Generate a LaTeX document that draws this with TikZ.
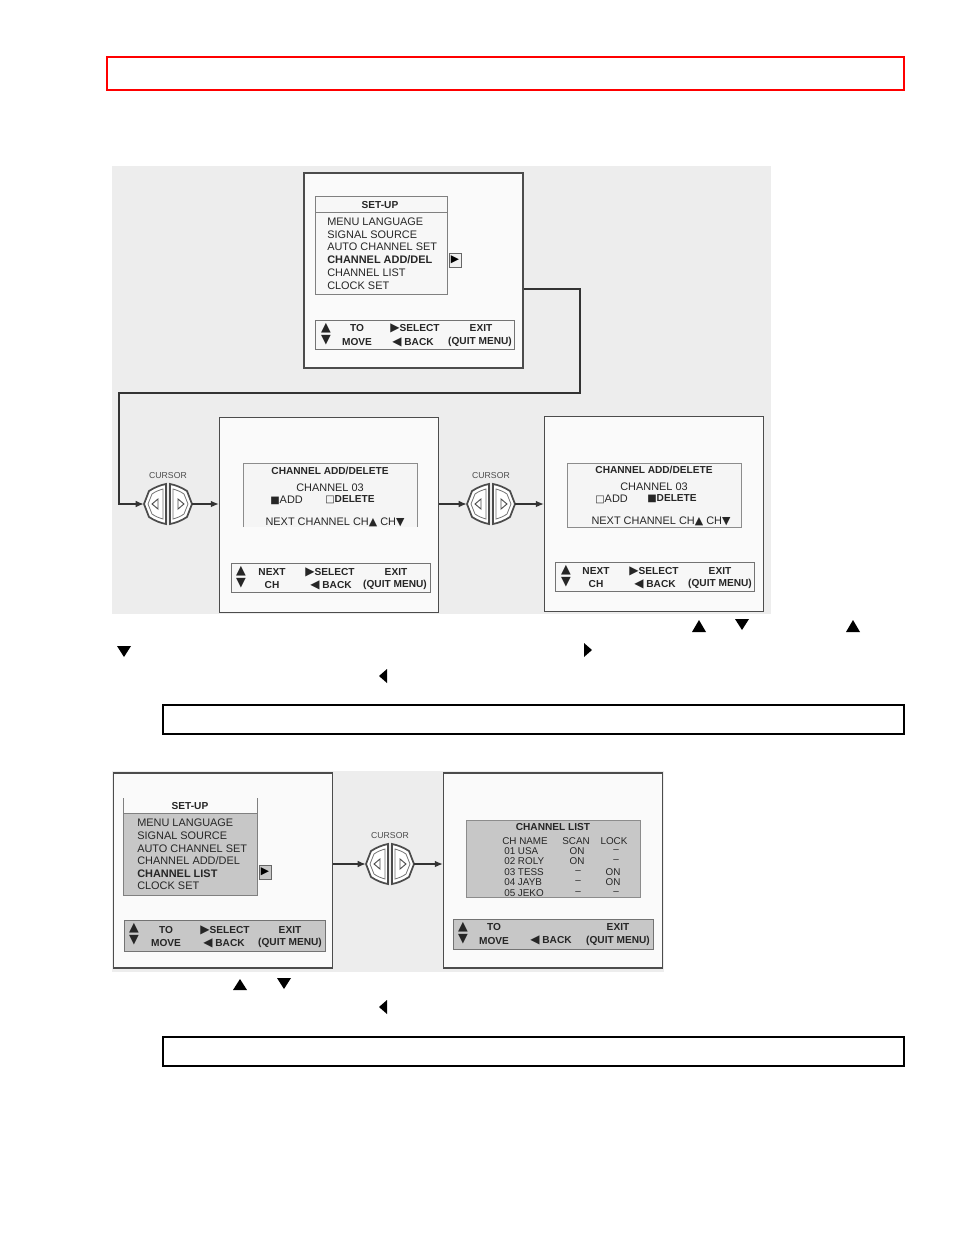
\documentclass[tikz,border=0pt]{standalone}
\usepackage{fontspec}
\setmainfont{Liberation Sans}
\newfontfamily\symfont{DejaVu Sans}
\usetikzlibrary{positioning,arrows.meta}

\newcommand{\tup}{{\symfont ▲}}
\newcommand{\tdn}{{\symfont ▼}}
\newcommand{\trt}{{\symfont\fontsize{9}{9}\selectfont ▶}}
\newcommand{\tlt}{{\symfont\fontsize{9}{9}\selectfont ◀}}

% cursor pad, drawn round a named node
\newcommand{\cursorpad}[1]{%
  \begin{scope}[shift={(#1)}]
    \foreach \s in {-1,1} {
      \filldraw[draw=black!70,line width=1.3pt,fill=white,xscale=\s]
        (-24,0) -- (-19,-13) .. controls (-13,-17) and (-7,-19) .. (-2,-20)
        -- (-2,20) .. controls (-7,19) and (-13,17) .. (-19,13) -- cycle;
      \draw[black!55,line width=0.6pt,xscale=\s]
        (-20,0) -- (-16,-10) .. controls (-12,-13) and (-8,-14) .. (-5,-15)
        -- (-5,15) .. controls (-8,14) and (-12,13) .. (-16,10) -- cycle;
      \draw[black!70,line width=0.7pt,xscale=\s] (-16,0) -- (-10,-5) -- (-10,5) -- cycle;
    }
  \end{scope}}

\begin{document}
\begin{tikzpicture}[x=0.75pt,y=-0.75pt,
    scr/.style={draw=black!70,line width=1pt,fill=black!2,minimum width=219*0.75pt,
                minimum height=195*0.75pt,inner sep=0pt},
    bar/.style={draw=black!55,line width=0.5pt,fill=black!3},
    gbar/.style={draw=black!55,line width=0.5pt,fill=black!22},
    txt/.style={font=\fontsize{8.2}{9}\selectfont,text=black!85,inner sep=0pt},
    btxt/.style={font=\fontsize{7.6}{9}\selectfont\bfseries,text=black!85,inner sep=0pt},
    ltxt/.style={font=\fontsize{7.4}{8}\selectfont,text=black!85,inner sep=0pt},
    atxt/.style={font=\symfont\fontsize{9.5}{9}\selectfont,text=black!85,inner sep=0pt},
    cur/.style={minimum width=48*0.75pt,minimum height=40*0.75pt,inner sep=0pt},
    lbl/.style={font=\fontsize{6.5}{7}\selectfont,text=black!70,inner sep=0pt},
    selbox/.style={draw=black!60,line width=0.4pt,fill=black!6,inner sep=0pt,
                   minimum width=12*0.75pt,minimum height=14*0.75pt,
                   font=\symfont\fontsize{8}{8}\selectfont},
    conn/.style={draw=black!80,line width=1pt,-{Latex[length=6pt,width=5pt]}}]
  \useasboundingbox (0,0) rectangle (954,1235);

  \draw[red,line width=1.5pt] (107,57) rectangle (904,90);

  % first panel
  \fill[black!7] (112,166) rectangle (771,614);
  \node[scr] (setup) at (413.5,270.5) {};
  \node[scr] (adddel) at (329,515) {};
  \node[scr] (delsel) at (654,514) {};

  % set-up menu
  \draw[black!50,line width=0.5pt,fill=black!3] (315,196) rectangle (447,294);
  \draw[black!50,line width=0.5pt] (315,212) -- (447,212);
  \node[btxt] (suA) at (380,205) {SET-UP};
  \node[txt,anchor=west] (mA1) at (327,222) {MENU LANGUAGE};
  \node[txt,anchor=west] (mA2) at (327,235) {SIGNAL SOURCE};
  \node[txt,anchor=west] (mA3) at (327,247) {AUTO CHANNEL SET};
  \node[txt,font=\fontsize{8.2}{9}\selectfont\bfseries,anchor=west] (mA4) at (327,260) {CHANNEL ADD/DEL};
  \node[txt,anchor=west] (mA5) at (327,273) {CHANNEL LIST};
  \node[txt,anchor=west] (mA6) at (327,286) {CLOCK SET};
  \node[selbox] (selA) at (455,260) {▶};
  \draw[bar] (315,320) rectangle (514,349);
  \node[atxt] (upA) at (326,328) {▲};
  \node[atxt] (dnA) at (326,340) {▼};
  \node[btxt] (toA) at (357,328) {TO};
  \node[btxt] (mvA) at (357,342) {MOVE};
  \node[btxt] (slA) at (415,328) {\trt SELECT};
  \node[btxt] (bkA) at (413,342) {\tlt\ BACK};
  \node[btxt] (exA) at (481,328) {EXIT};
  \node[btxt] (qmA) at (480,342) {(QUIT MENU)};

  % route to the first cursor
  \coordinate (bendA) at (580,289);
  \coordinate (bendB) at (580,393);
  \coordinate (bendC) at (119,393);
  \node[cur] (curA) at (168,504) {};
  \node[lbl,above=4pt of curA] (cuA) {CURSOR};
  \cursorpad{curA}
  \draw[conn] (setup.east |- bendA) -- (bendA) -- (bendB) -- (bendC) |- (curA.west);
  \draw[conn] (curA.east) -- (curA.east -| adddel.west);

  % channel add/delete, add ticked
  \draw[black!45,line width=0.5pt,fill=black!4] (243,527) -- (243,463) -- (417,463) -- (417,527);
  \node[btxt] (tiB) at (330,471) {CHANNEL ADD/DELETE};
  \node[txt] (chB) at (330,488) {CHANNEL 03};
  \node[txt,anchor=west] (adB) at (270,500) {{\symfont\fontsize{7.5}{7}\selectfont ■}ADD};
  \node[btxt,anchor=west] (deB) at (325,500) {{\symfont\fontsize{7.5}{7}\selectfont\mdseries □}DELETE};
  \node[txt] (nxB) at (335,522) {NEXT CHANNEL CH\tup\ CH\tdn};
  \draw[bar] (231,563) rectangle (430,592);
  \node[atxt] (upB) at (241,571) {▲};
  \node[atxt] (dnB) at (241,583) {▼};
  \node[btxt] (neB) at (272,572) {NEXT};
  \node[btxt] (ckB) at (272,585) {CH};
  \node[btxt] (slB) at (330,572) {\trt SELECT};
  \node[btxt] (bkB) at (331,585) {\tlt\ BACK};
  \node[btxt] (exB) at (396,572) {EXIT};
  \node[btxt] (qmB) at (395,585) {(QUIT MENU)};

  \node[cur] (curB) at (491,504) {};
  \node[lbl,above=4pt of curB] (cuB) {CURSOR};
  \cursorpad{curB}
  \draw[conn] (adddel.east |- curB) -- (curB.west);
  \draw[conn] (curB.east) -- (curB -| delsel.west);

  % channel add/delete, delete ticked
  \draw[black!45,line width=0.5pt,fill=black!4] (567,463) rectangle (741,527);
  \node[btxt] (tiC) at (654,470) {CHANNEL ADD/DELETE};
  \node[txt] (chC) at (654,487) {CHANNEL 03};
  \node[txt,anchor=west] (adC) at (595,499) {{\symfont\fontsize{7.5}{7}\selectfont □}ADD};
  \node[btxt,anchor=west] (deC) at (647,499) {{\symfont\fontsize{7.5}{7}\selectfont ■}DELETE};
  \node[txt] (nxC) at (661,521) {NEXT CHANNEL CH\tup\ CH\tdn};
  \draw[bar] (555,562) rectangle (754,591);
  \node[atxt] (upC) at (566,570) {▲};
  \node[atxt] (dnC) at (566,582) {▼};
  \node[btxt] (neC) at (596,571) {NEXT};
  \node[btxt] (ckC) at (596,584) {CH};
  \node[btxt] (slC) at (654,571) {\trt SELECT};
  \node[btxt] (bkC) at (655,584) {\tlt\ BACK};
  \node[btxt] (exC) at (720,571) {EXIT};
  \node[btxt] (qmC) at (720,584) {(QUIT MENU)};

  % loose marks under the first panel
  \fill (692,632) -- (706,632) -- (699,620) -- cycle;
  \fill (735,619) -- (749,619) -- (742,630) -- cycle;
  \fill (846,632) -- (860,632) -- (853,620) -- cycle;
  \fill (117,646) -- (131,646) -- (124,657) -- cycle;
  \fill (584,643) -- (584,657) -- (592,650) -- cycle;
  \fill (387,669) -- (387,683) -- (379,676) -- cycle;
  \draw[line width=1.5pt] (163,705) rectangle (904,734);

  % second panel
  \fill[black!7] (112,771) rectangle (664,972);
  \node[scr] (listmenu) at (223,870.5) {};
  \node[scr] (chlist) at (553,870.5) {};

  % set-up menu, channel list chosen
  \draw[black!50,line width=0.5pt] (123,798) -- (123,813) (257,798) -- (257,813);
  \draw[black!50,line width=0.5pt,fill=black!22] (123,813) rectangle (257,895);
  \node[btxt] (suD) at (190,806) {SET-UP};
  \node[txt,anchor=west] (mD1) at (137,823) {MENU LANGUAGE};
  \node[txt,anchor=west] (mD2) at (137,836) {SIGNAL SOURCE};
  \node[txt,anchor=west] (mD3) at (137,849) {AUTO CHANNEL SET};
  \node[txt,anchor=west] (mD4) at (137,861) {CHANNEL ADD/DEL};
  \node[txt,font=\fontsize{8.2}{9}\selectfont\bfseries,anchor=west] (mD5) at (137,874) {CHANNEL LIST};
  \node[txt,anchor=west] (mD6) at (137,886) {CLOCK SET};
  \node[selbox,fill=black!22] (selD) at (265,872) {▶};
  \draw[gbar] (124,920) rectangle (325,951);
  \node[atxt] (upD) at (134,928) {▲};
  \node[atxt] (dnD) at (134,940) {▼};
  \node[btxt] (toD) at (166,930) {TO};
  \node[btxt] (mvD) at (166,943) {MOVE};
  \node[btxt] (slD) at (225,930) {\trt SELECT};
  \node[btxt] (bkD) at (224,943) {\tlt\ BACK};
  \node[btxt] (exD) at (290,930) {EXIT};
  \node[btxt] (qmD) at (290,943) {(QUIT MENU)};

  \node[cur] (curC) at (390,864) {};
  \node[lbl,above=4pt of curC] (cuC) {CURSOR};
  \cursorpad{curC}
  \draw[conn] (listmenu.east |- curC) -- (curC.west);
  \draw[conn] (curC.east) -- (curC -| chlist.west);

  % channel list
  \draw[black!45,line width=0.5pt,fill=black!22] (466,820) rectangle (640,897);
  \node[btxt] (tiE) at (553,827) {CHANNEL LIST};
  \node[ltxt,anchor=west] (hE1) at (502,841) {CH NAME};
  \node[ltxt] (hE2) at (576,841) {SCAN};
  \node[ltxt] (hE3) at (614,841) {LOCK};
  \node[ltxt,anchor=west] (rE1) at (504,851) {01 USA};
  \node[ltxt] (sE1) at (577,851) {ON};
  \node[ltxt] (lE1) at (616,851) {--};
  \node[ltxt,anchor=west] (rE2) at (504,861) {02 ROLY};
  \node[ltxt] (sE2) at (577,861) {ON};
  \node[ltxt] (lE2) at (616,861) {--};
  \node[ltxt,anchor=west] (rE3) at (504,872) {03 TESS};
  \node[ltxt] (sE3) at (578,872) {--};
  \node[ltxt] (lE3) at (613,872) {ON};
  \node[ltxt,anchor=west] (rE4) at (504,882) {04 JAYB};
  \node[ltxt] (sE4) at (578,882) {--};
  \node[ltxt] (lE4) at (613,882) {ON};
  \node[ltxt,anchor=west] (rE5) at (504,893) {05 JEKO};
  \node[ltxt] (sE5) at (578,893) {--};
  \node[ltxt] (lE5) at (616,893) {--};
  \draw[gbar] (453,919) rectangle (653,949);
  \node[atxt] (upE) at (463,927) {▲};
  \node[atxt] (dnE) at (463,939) {▼};
  \node[btxt] (toE) at (494,927) {TO};
  \node[btxt] (mvE) at (494,941) {MOVE};
  \node[btxt] (bkE) at (551,940) {\tlt\ BACK};
  \node[btxt] (exE) at (618,927) {EXIT};
  \node[btxt] (qmE) at (618,941) {(QUIT MENU)};

  % loose marks under the second panel
  \fill (233,990) -- (247,990) -- (240,979) -- cycle;
  \fill (277,978) -- (291,978) -- (284,989) -- cycle;
  \fill (387,1000) -- (387,1014) -- (379,1007) -- cycle;
  \draw[line width=1.5pt] (163,1037) rectangle (904,1066);
\end{tikzpicture}
\end{document}
